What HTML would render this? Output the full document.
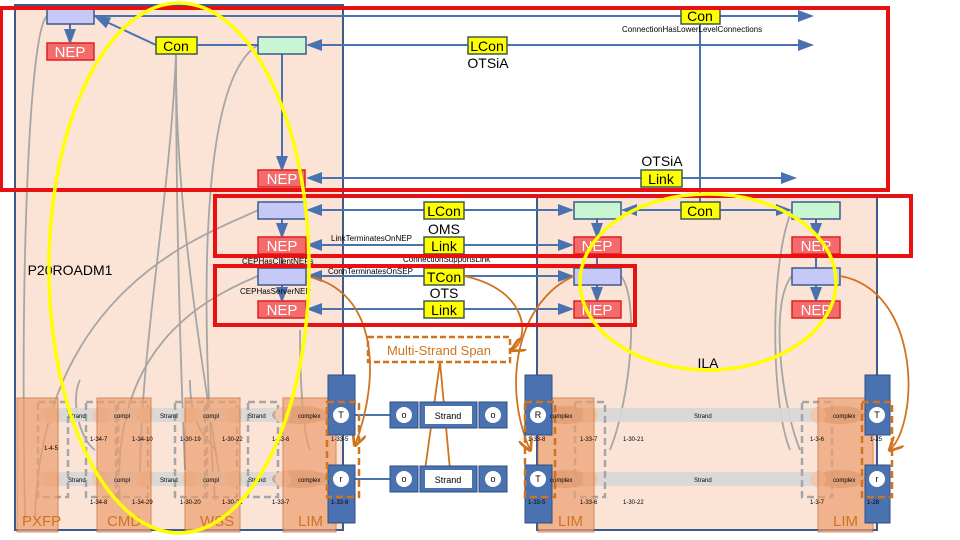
<!DOCTYPE html>
<html><head><meta charset="utf-8"><style>body{margin:0;background:#fff}svg{display:block}text{font-family:"Liberation Sans",sans-serif}</style></head><body>
<svg width="960" height="540" viewBox="0 0 960 540" xmlns="http://www.w3.org/2000/svg">
<defs><marker id="a" markerWidth="8" markerHeight="8" refX="7" refY="4" orient="auto"><path d="M0,1 L8,4 L0,7z" fill="#4a72b0"/></marker>
<marker id="o" markerWidth="8" markerHeight="8" refX="7" refY="4" orient="auto"><path d="M0,0 L8,4 L0,8" fill="none" stroke="#d0731f" stroke-width="1.5"/></marker></defs>
<rect x="15" y="5" width="328" height="525" fill="#fbe3d6" stroke="#3d5a8c" stroke-width="2"/>
<rect x="537" y="197" width="340" height="333" fill="#fbe3d6" stroke="#3d5a8c" stroke-width="2"/>
<line x1="343" y1="197" x2="343" y2="530" stroke="#3d5a8c" stroke-width="1.5"/>
<g fill="none" stroke="#a6a6a6" stroke-width="1.8">
<path d="M47,16 C30,30 20,250 25,520"/><path d="M258,45 C200,80 200,300 215,500"/><path d="M176,54 C170,200 140,350 140,480"/><path d="M176,54 C175,200 200,350 220,480"/><path d="M176,54 C176,200 180,350 185,470"/><path d="M258,210 C220,230 40,280 35,520"/><path d="M258,276 C200,300 110,350 120,500"/>
<path d="M80,380 C70,400 80,440 95,450"/><path d="M190,380 C190,430 210,440 215,450"/><path d="M300,330 C300,400 305,440 310,450"/>
<path d="M621,276 C640,300 630,400 610,450"/><path d="M792,210 C770,260 770,400 790,450"/><path d="M792,276 C770,300 780,400 800,450"/>
</g>
<g stroke="#4a72b0" stroke-width="2" fill="none">
<line x1="94" y1="16" x2="812" y2="16" marker-end="url(#a)"/>
<line x1="156" y1="45" x2="96" y2="17" marker-end="url(#a)"/>
<line x1="197" y1="45" x2="258" y2="45"/>
<line x1="812" y1="45" x2="308" y2="45" marker-end="url(#a)"/>
<line x1="507" y1="45" x2="812" y2="45" marker-end="url(#a)"/>
<line x1="70" y1="24" x2="70" y2="43" marker-end="url(#a)"/>
<line x1="282" y1="54" x2="282" y2="170" marker-end="url(#a)"/>
<line x1="700" y1="24" x2="700" y2="202"/>
<line x1="641" y1="178" x2="308" y2="178" marker-end="url(#a)"/>
<line x1="682" y1="178" x2="795" y2="178" marker-end="url(#a)"/>
<line x1="424" y1="210" x2="308" y2="210" marker-end="url(#a)"/><line x1="464" y1="210" x2="572" y2="210" marker-end="url(#a)"/>
<line x1="424" y1="245" x2="308" y2="245" marker-end="url(#a)"/><line x1="464" y1="245" x2="572" y2="245" marker-end="url(#a)"/>
<line x1="424" y1="276" x2="308" y2="276" marker-end="url(#a)"/><line x1="464" y1="276" x2="572" y2="276" marker-end="url(#a)"/>
<line x1="424" y1="309" x2="308" y2="309" marker-end="url(#a)"/><line x1="464" y1="309" x2="572" y2="309" marker-end="url(#a)"/>
<line x1="681" y1="210" x2="623" y2="210" marker-end="url(#a)"/><line x1="720" y1="210" x2="790" y2="210" marker-end="url(#a)"/>
<line x1="282" y1="219" x2="282" y2="237" marker-end="url(#a)"/><line x1="282" y1="285" x2="282" y2="301" marker-end="url(#a)"/>
<line x1="597" y1="219" x2="597" y2="237" marker-end="url(#a)"/><line x1="597" y1="285" x2="597" y2="301" marker-end="url(#a)"/>
<line x1="816" y1="219" x2="816" y2="237" marker-end="url(#a)"/><line x1="816" y1="285" x2="816" y2="301" marker-end="url(#a)"/>
<line x1="597" y1="253" x2="597" y2="268"/><line x1="816" y1="253" x2="816" y2="268"/>
<line x1="282" y1="253" x2="282" y2="268"/>
<line x1="355" y1="415" x2="392" y2="415"/><line x1="355" y1="479" x2="392" y2="479"/>
</g>
<g stroke="#3d5a8c" stroke-width="1.5">
<rect x="47" y="8" width="47" height="16" fill="#c6c9f7"/>
<rect x="258" y="37" width="48" height="17" fill="#c8f5d2"/>
<rect x="258" y="202" width="48" height="17" fill="#c6c9f7"/><rect x="258" y="268" width="48" height="17" fill="#c6c9f7"/>
<rect x="574" y="202" width="47" height="17" fill="#c8f5d2"/><rect x="792" y="202" width="48" height="17" fill="#c8f5d2"/>
<rect x="574" y="268" width="47" height="17" fill="#c6c9f7"/><rect x="792" y="268" width="48" height="17" fill="#c6c9f7"/>
</g>
<g fill="#f36b6b" stroke="#e02020" stroke-width="1.5">
<rect x="47" y="43" width="47" height="17"/><rect x="258" y="170" width="47" height="17"/><rect x="258" y="237" width="48" height="17"/><rect x="258" y="301" width="48" height="17"/>
<rect x="574" y="237" width="47" height="17"/><rect x="574" y="301" width="47" height="17"/><rect x="792" y="237" width="48" height="17"/><rect x="792" y="301" width="48" height="17"/>
</g>
<g fill="#fff" font-size="15" text-anchor="middle">
<text x="70" y="57">NEP</text><text x="282" y="184">NEP</text><text x="282" y="251">NEP</text><text x="282" y="315">NEP</text>
<text x="597" y="251">NEP</text><text x="597" y="315">NEP</text><text x="816" y="251">NEP</text><text x="816" y="315">NEP</text>
</g>
<g fill="#ffff00" stroke="#3d5a50" stroke-width="1.5">
<rect x="156" y="37" width="41" height="17"/><rect x="468" y="37" width="39" height="17"/><rect x="681" y="8" width="39" height="16"/>
<rect x="641" y="170" width="41" height="17"/><rect x="424" y="202" width="40" height="17"/><rect x="424" y="237" width="40" height="17"/>
<rect x="424" y="268" width="40" height="17"/><rect x="424" y="301" width="40" height="17"/><rect x="681" y="202" width="39" height="17"/>
</g>
<g font-size="14" text-anchor="middle" fill="#000">
<text x="176" y="51">Con</text><text x="487" y="51">LCon</text><text x="700" y="21">Con</text><text x="488" y="68">OTSiA</text>
<text x="662" y="166">OTSiA</text><text x="661" y="184">Link</text><text x="444" y="216">LCon</text><text x="444" y="234">OMS</text><text x="444" y="251">Link</text>
<text x="444" y="282">TCon</text><text x="444" y="298">OTS</text><text x="444" y="315">Link</text><text x="700" y="216">Con</text>
<text x="708" y="368">ILA</text><text x="70" y="275">P20ROADM1</text>
</g>
<g font-size="8" fill="#000">
<text x="622" y="32">ConnectionHasLowerLevelConnections</text>
<text x="331" y="241">LinkTerminatesOnNEP</text><text x="242" y="264">CEPHasClientNEPs</text><text x="403" y="262">ConnectionSupportsLink</text>
<text x="328" y="274">ConnTerminatesOnSEP</text><text x="240" y="294">CEPHasServerNEP</text>
</g>
<rect x="368" y="337" width="142" height="25" fill="#fff" stroke="#d0731f" stroke-width="2.5" stroke-dasharray="6,3"/>
<text x="439" y="355" font-size="13" fill="#d0731f" text-anchor="middle">Multi-Strand Span</text>
<g fill="none" stroke="#d0731f" stroke-width="1.8">
<path d="M306,276 C380,290 380,380 355,445" marker-end="url(#o)"/><path d="M574,276 C520,300 500,380 530,450" marker-end="url(#o)"/>
<path d="M464,276 C530,290 530,340 512,350" marker-end="url(#o)"/><path d="M840,276 C920,290 920,420 890,450" marker-end="url(#o)"/>
<path d="M440,362 L450,470"/><path d="M440,362 L425,470"/>
</g>
<g fill="#d8d8d8" opacity="0.9">
<rect x="40" y="408" width="290" height="14"/><rect x="40" y="472" width="290" height="14"/>
<rect x="555" y="408" width="300" height="14"/><rect x="555" y="472" width="300" height="14"/>
</g>
<g fill="none" stroke="#a6a6a6" stroke-width="2.5" stroke-dasharray="7,4">
<rect x="38" y="402" width="30" height="95"/><rect x="86" y="402" width="30" height="95"/><rect x="118" y="402" width="30" height="95"/><rect x="175" y="402" width="30" height="95"/><rect x="207" y="402" width="30" height="95"/><rect x="248" y="402" width="30" height="95"/>
<rect x="575" y="402" width="30" height="95"/><rect x="802" y="402" width="30" height="95"/>
</g>
<g fill="#c89a80" opacity="0.8"><ellipse cx="300" cy="415" rx="28" ry="9"/><ellipse cx="300" cy="479" rx="28" ry="9"/><ellipse cx="565" cy="415" rx="25" ry="9"/><ellipse cx="565" cy="479" rx="25" ry="9"/><ellipse cx="840" cy="415" rx="25" ry="9"/><ellipse cx="840" cy="479" rx="25" ry="9"/></g>
<g fill="#f0c8b0"><circle cx="52" cy="415" r="8"/><circle cx="52" cy="479" r="8"/><circle cx="100" cy="415" r="8"/><circle cx="100" cy="479" r="8"/><circle cx="145" cy="415" r="8"/><circle cx="145" cy="479" r="8"/><circle cx="190" cy="415" r="8"/><circle cx="190" cy="479" r="8"/><circle cx="234" cy="415" r="8"/><circle cx="234" cy="479" r="8"/><circle cx="283" cy="415" r="8"/><circle cx="283" cy="479" r="8"/><circle cx="590" cy="415" r="8"/><circle cx="590" cy="479" r="8"/><circle cx="818" cy="415" r="8"/><circle cx="818" cy="479" r="8"/></g>
<g fill="#eda070" opacity="0.7" stroke="#c0662a" stroke-width="1">
<rect x="17" y="398" width="41" height="134"/><rect x="97" y="398" width="54" height="134"/><rect x="185" y="398" width="55" height="134"/><rect x="283" y="398" width="53" height="134"/><rect x="538" y="398" width="56" height="134"/><rect x="818" y="398" width="55" height="134"/>
</g>
<g font-size="15" fill="#d0731f"><text x="22" y="526">PXFP</text><text x="107" y="526">CMD</text><text x="200" y="526">WSS</text><text x="298" y="526">LIM</text><text x="558" y="526">LIM</text><text x="833" y="526">LIM</text></g>
<g fill="#4a72b0" stroke="#2f4f85" stroke-width="1">
<rect x="328" y="375" width="27" height="60"/><rect x="328" y="465" width="27" height="58"/>
<rect x="525" y="375" width="27" height="60"/><rect x="525" y="465" width="27" height="58"/>
<rect x="865" y="375" width="25" height="60"/><rect x="865" y="465" width="25" height="58"/>
<rect x="390" y="402" width="28" height="26"/><rect x="420" y="402" width="57" height="26"/><rect x="479" y="402" width="28" height="26"/>
<rect x="390" y="466" width="28" height="26"/><rect x="420" y="466" width="57" height="26"/><rect x="479" y="466" width="28" height="26"/>
</g>
<g fill="#fff"><rect x="425" y="406" width="47" height="18"/><rect x="425" y="470" width="47" height="18"/>
<circle cx="341" cy="415" r="8"/><circle cx="341" cy="479" r="8"/><circle cx="404" cy="415" r="8"/><circle cx="404" cy="479" r="8"/><circle cx="493" cy="415" r="8"/><circle cx="493" cy="479" r="8"/>
<circle cx="538" cy="415" r="8"/><circle cx="538" cy="479" r="8"/><circle cx="877" cy="415" r="8"/><circle cx="877" cy="479" r="8"/></g>
<g font-size="9" text-anchor="middle" fill="#000"><text x="448" y="419">Strand</text><text x="448" y="483">Strand</text>
<text x="341" y="418">T</text><text x="341" y="482">r</text><text x="404" y="418">o</text><text x="404" y="482">o</text><text x="493" y="418">o</text><text x="493" y="482">o</text>
<text x="538" y="418">R</text><text x="538" y="482">T</text><text x="877" y="418">T</text><text x="877" y="482">r</text></g>
<g fill="none" stroke="#d0731f" stroke-width="2.5" stroke-dasharray="7,4"><rect x="327" y="402" width="32" height="95"/><rect x="525" y="402" width="30" height="95"/><rect x="862" y="402" width="30" height="95"/></g>
<g font-size="6" fill="#000"><text x="68" y="418">Strand</text><text x="68" y="482">Strand</text><text x="160" y="418">Strand</text><text x="160" y="482">Strand</text><text x="248" y="418">Strand</text><text x="248" y="482">Strand</text>
<text x="114" y="418">compl</text><text x="114" y="482">compl</text><text x="203" y="418">compl</text><text x="203" y="482">compl</text><text x="298" y="418">complex</text><text x="298" y="482">complex</text>
<text x="550" y="418">complex</text><text x="550" y="482">complex</text><text x="694" y="418">Strand</text><text x="694" y="482">Strand</text><text x="833" y="418">complex</text><text x="833" y="482">complex</text>
<text x="44" y="450">1-4-5</text><text x="90" y="441">1-34-7</text><text x="132" y="441">1-34-10</text><text x="180" y="441">1-30-19</text><text x="222" y="441">1-30-22</text><text x="272" y="441">1-33-6</text><text x="331" y="441">1-33-5</text>
<text x="90" y="504">1-34-8</text><text x="132" y="504">1-34-29</text><text x="180" y="504">1-30-20</text><text x="222" y="504">1-30-21</text><text x="272" y="504">1-33-7</text><text x="331" y="504">1-33-8</text>
<text x="528" y="441">1-33-8</text><text x="580" y="441">1-33-7</text><text x="623" y="441">1-30-21</text><text x="810" y="441">1-3-6</text><text x="870" y="441">1-25</text>
<text x="528" y="504">1-33-5</text><text x="580" y="504">1-33-6</text><text x="623" y="504">1-30-22</text><text x="810" y="504">1-3-7</text><text x="867" y="504">1-28</text></g>
<g fill="none" stroke="#e81010" stroke-width="4">
<rect x="1" y="8" width="887" height="182"/><rect x="215" y="196" width="696" height="60"/><rect x="215" y="266" width="420" height="59"/>
</g>
<g fill="none" stroke="#ffff00" stroke-width="3.5">
<ellipse cx="179" cy="268" rx="130" ry="265"/><ellipse cx="708" cy="282" rx="128" ry="88"/>
</g>
</svg>
</body></html>
